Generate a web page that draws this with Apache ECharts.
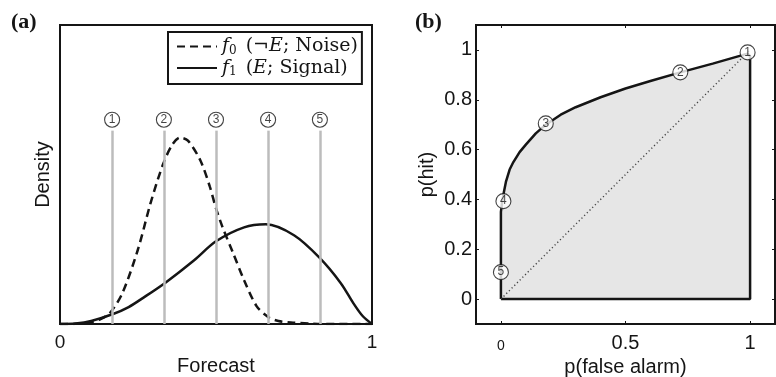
<!DOCTYPE html>
<html>
<head>
<meta charset="utf-8">
<script src="https://cdn.jsdelivr.net/npm/echarts@6/dist/echarts.min.js"></script>
<style>
  html, body { margin: 0; padding: 0; background: #fff; }
  #chart { width: 776px; height: 377px; }
</style>
</head>
<body>
<div id="chart"></div>
<script>
// panel (a): densities
const f0Noise = [
  [0, 0], [0.05, 0.002], [0.1, 0.02], [0.13, 0.05], [0.16, 0.11], [0.2, 0.31],
  [0.25, 0.75], [0.29, 1.21], [0.33, 1.6], [0.36, 1.8], [0.385, 1.87], [0.41, 1.84],
  [0.45, 1.64], [0.48, 1.38], [0.5, 1.16], [0.52, 0.98], [0.555, 0.71], [0.59, 0.44],
  [0.63, 0.18], [0.667, 0.07], [0.7, 0.03], [0.74, 0.015], [0.8, 0.005], [0.85, 0], [1, 0]
];
const f1Signal = [
  [0, 0], [0.05, 0.005], [0.1, 0.03], [0.17, 0.1], [0.22, 0.17], [0.27, 0.27],
  [0.34, 0.42], [0.43, 0.64], [0.5, 0.83], [0.59, 0.97], [0.66, 1.0], [0.75, 0.89],
  [0.83, 0.67], [0.9, 0.41], [0.94, 0.21], [0.97, 0.08], [1, 0]
];
const thresholds = [0.167, 0.333, 0.5, 0.667, 0.833];
const thresholdTop = 1.94;
const markerLevel = 2.05;
const markerLabels = ['1', '2', '3', '4', '5'];

// panel (b): ROC curve
const rocCurve = [
  [0, 0], [0, 0.3], [0, 0.35], [0.005, 0.39], [0.012, 0.43], [0.02, 0.47], [0.035, 0.52],
  [0.05, 0.55], [0.075, 0.59], [0.1, 0.62], [0.14, 0.665], [0.18, 0.7], [0.24, 0.74],
  [0.3, 0.77], [0.4, 0.81], [0.5, 0.845], [0.6, 0.875], [0.72, 0.91], [0.85, 0.945],
  [0.99, 0.985], [1, 0.975], [1, 0], [0, 0]
];
const rocPoints = [[0.99, 0.99], [0.72, 0.91], [0.18, 0.705], [0.01, 0.393], [0, 0.108]];
const diagonal = [[0, 0], [1, 1]];
const rocTicksX = [0, 0.5, 1];
const rocTicksY = [0, 0.2, 0.4, 0.6, 0.8, 1];

const sans = 'Liberation Sans';
const serif = 'DejaVu Serif';
const ink = '#151515';

const chart = echarts.init(document.getElementById('chart'));

const circleLabel = {
  show: true,
  position: 'inside',
  formatter: p => p.data[2],
  fontFamily: sans,
  fontSize: 12,
  color: ink
};

const tickStyle = { show: true, inside: true, length: 3, lineStyle: { color: ink } };

const option = {
  animation: false,
  backgroundColor: '#fff',
  graphic: [
    { type: 'text', left: 11, top: 11, style: { text: '(a)', font: 'bold 22px "Liberation Serif"', fill: ink } },
    { type: 'text', left: 415, top: 11, style: { text: '(b)', font: 'bold 22px "Liberation Serif"', fill: ink } }
  ],
  grid: [
    { left: 60, top: 25, width: 312, height: 299, outerBoundsMode: 'none', show: true, borderColor: ink, borderWidth: 2, backgroundColor: 'transparent' },
    { left: 476, top: 25, width: 299, height: 299, outerBoundsMode: 'none', show: true, borderColor: ink, borderWidth: 2, backgroundColor: 'transparent' }
  ],
  legend: {
    left: 168, top: 32,
    orient: 'vertical',
    data: ['f0', 'f1'],
    itemWidth: 40, itemHeight: 14, itemGap: 2,
    padding: [5, 4, 6, 8],
    borderColor: ink, borderWidth: 2, backgroundColor: '#fff',
    itemStyle: { opacity: 0 },
    formatter: name => name === 'f0'
      ? '{i|f}{s|0} (¬{i|E}; Noise)'
      : '{i|f}{s|1} ({i|E}; Signal)',
    textStyle: {
      fontFamily: serif, fontSize: 19, color: ink,
      rich: {
        i: { fontFamily: serif, fontSize: 19, fontStyle: 'italic', color: ink },
        s: { fontFamily: serif, fontSize: 12, color: ink, padding: [8, 3, 0, 0] }
      }
    }
  },
  xAxis: [
    {
      gridIndex: 0, type: 'value', min: 0, max: 1, interval: 1,
      name: 'Forecast', nameLocation: 'middle', nameGap: 29,
      nameTextStyle: { fontFamily: sans, fontSize: 20, color: ink },
      axisLine: { show: false, onZero: false }, axisTick: { show: false }, splitLine: { show: false },
      axisLabel: { fontFamily: sans, fontSize: 19, color: ink, margin: 9 }
    },
    {
      gridIndex: 1, type: 'value', min: -0.1, max: 1.1,
      name: 'p(false alarm)', nameLocation: 'middle', nameGap: 30,
      nameTextStyle: { fontFamily: sans, fontSize: 20, color: ink },
      axisLine: { show: false, onZero: false }, splitLine: { show: false },
      axisTick: Object.assign({ customValues: rocTicksX }, tickStyle),
      axisLabel: {
        customValues: rocTicksX, fontFamily: sans, fontSize: 20, color: ink, margin: 9,
        formatter: v => v === 0 ? '{s|0}' : String(v),
        rich: { s: { fontFamily: sans, fontSize: 14, color: ink, padding: [6, 0, 0, 0] } }
      }
    },
    {
      gridIndex: 1, type: 'value', min: -0.1, max: 1.1, position: 'top',
      axisLine: { show: false, onZero: false }, splitLine: { show: false }, axisLabel: { show: false },
      axisTick: Object.assign({ customValues: rocTicksX }, tickStyle)
    }
  ],
  yAxis: [
    {
      gridIndex: 0, type: 'value', min: 0, max: 3,
      name: 'Density', nameLocation: 'middle', nameGap: 7,
      nameTextStyle: { fontFamily: sans, fontSize: 20, color: ink },
      axisLine: { show: false, onZero: false }, axisTick: { show: false }, splitLine: { show: false },
      axisLabel: { show: false }
    },
    {
      gridIndex: 1, type: 'value', min: -0.1, max: 1.1,
      name: 'p(hit)', nameLocation: 'middle', nameGap: 39,
      nameTextStyle: { fontFamily: sans, fontSize: 20, color: ink },
      axisLine: { show: false, onZero: false }, splitLine: { show: false },
      axisTick: Object.assign({ customValues: rocTicksY }, tickStyle),
      axisLabel: { customValues: rocTicksY, fontFamily: sans, fontSize: 20, color: ink, margin: 4 }
    },
    {
      gridIndex: 1, type: 'value', min: -0.1, max: 1.1, position: 'right',
      axisLine: { show: false, onZero: false }, splitLine: { show: false }, axisLabel: { show: false },
      axisTick: Object.assign({ customValues: rocTicksY }, tickStyle)
    }
  ],
  series: [
    {
      type: 'line', xAxisIndex: 0, yAxisIndex: 0, data: [], silent: true,
      markLine: {
        symbol: 'none', silent: true, label: { show: false },
        lineStyle: { color: '#bcbcbc', width: 2.5, type: 'solid' },
        data: thresholds.map(t => [{ coord: [t, 0] }, { coord: [t, thresholdTop] }])
      }
    },
    {
      name: 'f0', type: 'line', xAxisIndex: 0, yAxisIndex: 0, data: f0Noise,
      smooth: 0.3, symbol: 'none',
      lineStyle: { color: ink, width: 2.5, type: [8, 5] }, itemStyle: { color: ink }
    },
    {
      name: 'f1', type: 'line', xAxisIndex: 0, yAxisIndex: 0, data: f1Signal,
      smooth: 0.3, symbol: 'none',
      lineStyle: { color: ink, width: 2.5 }, itemStyle: { color: ink }
    },
    {
      type: 'scatter', xAxisIndex: 0, yAxisIndex: 0,
      data: thresholds.map((t, i) => [t, markerLevel, markerLabels[i]]),
      symbol: 'circle', symbolSize: 15,
      itemStyle: { color: '#fff', borderColor: ink, borderWidth: 1.1 },
      label: circleLabel, z: 5
    },
    {
      type: 'line', xAxisIndex: 1, yAxisIndex: 1, data: rocCurve,
      symbol: 'none', smooth: false,
      lineStyle: { color: ink, width: 2.5 },
      areaStyle: { color: '#e6e6e6', opacity: 1 }
    },
    {
      type: 'line', xAxisIndex: 1, yAxisIndex: 1, data: diagonal,
      symbol: 'none', lineStyle: { color: '#444', width: 1.4, type: [1.2, 2.6] }, z: 3
    },
    {
      type: 'scatter', xAxisIndex: 1, yAxisIndex: 1,
      data: rocPoints.map((p, i) => [p[0], p[1], markerLabels[i]]),
      symbol: 'circle', symbolSize: 15,
      itemStyle: { color: '#fff', borderColor: ink, borderWidth: 1.1 },
      label: circleLabel, z: 5
    }
  ]
};

chart.setOption(option);
</script>
</body>
</html>
